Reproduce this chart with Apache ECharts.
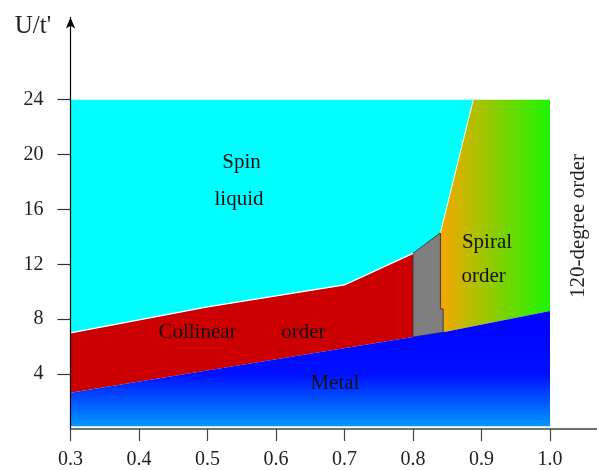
<!DOCTYPE html>
<html>
<head>
<meta charset="utf-8">
<script src="https://cdn.jsdelivr.net/npm/echarts@6/dist/echarts.min.js"></script>
<style>
  html, body { margin: 0; padding: 0; background: #fff; }
  #chart { width: 597px; height: 470px; }
</style>
</head>
<body>
<div id="chart"></div>
<script>
// Phase diagram in the (x, U/t') plane: each phase is a polygon of boundary vertices.
const xTicks = [0.3, 0.4, 0.5, 0.6, 0.7, 0.8, 0.9, 1.0];
const yTicks = [4, 8, 12, 16, 20, 24];

const metalRegion = [[0.3, 0.2], [1.0, 0.2], [1.0, 8.6], [0.844, 7.05], [0.8, 6.7], [0.3, 2.65]];
const collinearRegion = [[0.3, 2.65], [0.8, 6.7], [0.8, 12.8], [0.7, 10.5], [0.5, 8.9], [0.3, 7.0]];
const intermediateRegion = [[0.8, 6.7], [0.844, 7.05], [0.844, 8.75], [0.84, 8.75], [0.84, 14.3], [0.8, 12.8]];
const spiralRegion = [[0.84, 14.3], [0.888, 24], [1.0, 24], [1.0, 8.6], [0.844, 7.05], [0.844, 8.75], [0.84, 8.75]];
const spinLiquidRegion = [[0.3, 7.0], [0.3, 24], [0.888, 24], [0.84, 14.3], [0.8, 12.8], [0.7, 10.5], [0.5, 8.9]];
// Edge of the spin-liquid phase, traced with a thin light line
const spinLiquidEdge = [[0.3, 7.0], [0.5, 8.9], [0.7, 10.5], [0.8, 12.8]];
const spiralEdge = [[0.84, 14.3], [0.888, 24]];

const SERIF = '"Liberation Serif", "Times New Roman", serif';

function polygonSeries(name, points, style, z) {
  return {
    name: name,
    type: 'custom',
    coordinateSystem: 'cartesian2d',
    z: z || 2,
    silent: true,
    data: [0],
    renderItem: function (params, api) {
      return {
        type: 'polygon',
        shape: { points: points.map(function (p) { return api.coord(p); }) },
        style: style
      };
    }
  };
}

function polylineSeries(name, points, style, z) {
  return {
    name: name,
    type: 'custom',
    coordinateSystem: 'cartesian2d',
    z: z || 3,
    silent: true,
    data: [0],
    renderItem: function (params, api) {
      return {
        type: 'polyline',
        shape: { points: points.map(function (p) { return api.coord(p); }) },
        style: style
      };
    }
  };
}

// Phase names, anchored in data coordinates
const phaseLabels = [
  { text: 'Spin', at: [0.5496, 19.46] },
  { text: 'liquid', at: [0.546, 16.76] },
  { text: 'Collinear', at: [0.4854, 7.07] },
  { text: 'order', at: [0.640, 7.07] },
  { text: 'Spiral', at: [0.908, 13.63] },
  { text: 'order', at: [0.903, 11.08] },
  { text: 'Metal', at: [0.686, 3.32] }
];

const chart = echarts.init(document.getElementById('chart'), null, { renderer: 'canvas' });

const option = {
  animation: false,
  backgroundColor: '#ffffff',
  grid: {
    left: 70.5, right: -21.5, top: 17.4, bottom: 41,
    containLabel: false,
    outerBoundsMode: 'none'
  },
  xAxis: {
    type: 'value',
    min: 0.3,
    max: 1.1,
    interval: 0.1,
    z: 10,
    axisLine: { show: true, onZero: false, lineStyle: { color: '#444', width: 1.5 } },
    axisTick: { show: true, length: 12, inside: false, lineStyle: { color: '#444', width: 1.2 } },
    axisLabel: {
      margin: 21,
      fontFamily: SERIF,
      fontSize: 20,
      color: '#222',
      formatter: function (v) { return v.toFixed(1); }
    },
    splitLine: { show: false }
  },
  yAxis: {
    type: 'value',
    min: 0,
    max: 30,
    z: 10,
    axisLine: {
      show: true,
      onZero: false,
      symbol: ['none', 'arrow'],
      symbolSize: [7, 11],
      lineStyle: { color: '#000', width: 1.2 }
    },
    axisTick: { show: true, length: 13, inside: false, customValues: yTicks, lineStyle: { color: '#333', width: 1.2 } },
    axisLabel: {
      customValues: yTicks,
      margin: 27,
      fontFamily: SERIF,
      fontSize: 20,
      color: '#222'
    },
    splitLine: { show: false }
  },
  graphic: [
    {
      type: 'text',
      x: 33, y: 26,
      style: { text: "U/t'", font: '25px ' + SERIF, fill: '#222', align: 'center', verticalAlign: 'middle' }
    },
    {
      type: 'text',
      x: 578, y: 226,
      rotation: Math.PI / 2,
      style: { text: '120-degree order', font: '21px ' + SERIF, fill: '#222', align: 'center', verticalAlign: 'middle' }
    }
  ],
  series: [
    polygonSeries('Spin liquid', spinLiquidRegion, { fill: '#00ffff' }, 2),
    polygonSeries('Collinear order', collinearRegion, { fill: '#cc0000' }, 2),
    polygonSeries('Spiral order', spiralRegion, {
      fill: new echarts.graphic.LinearGradient(0, 0, 1, 0, [
        { offset: 0, color: '#f7a600' },
        { offset: 1, color: '#1cf500' }
      ])
    }, 2),
    polygonSeries('Intermediate', intermediateRegion, { fill: '#7f7f7f', stroke: '#3a3a3a', lineWidth: 1 }, 3),
    polygonSeries('Metal', metalRegion, {
      fill: new echarts.graphic.LinearGradient(0, 0, 0, 1, [
        { offset: 0, color: '#0000ff' },
        { offset: 0.55, color: '#0010ff' },
        { offset: 1, color: '#0098ff' }
      ])
    }, 4),
    polylineSeries('Spin liquid edge', spinLiquidEdge, { stroke: '#ffffff', lineWidth: 1.2, fill: null }, 5),
    polylineSeries('Spiral edge', spiralEdge, { stroke: '#e8fff0', lineWidth: 1, fill: null }, 5),
    {
      name: 'Phase labels',
      type: 'custom',
      coordinateSystem: 'cartesian2d',
      z: 8,
      silent: true,
      data: phaseLabels.map(function (d, i) { return i; }),
      renderItem: function (params, api) {
        const d = phaseLabels[params.dataIndex];
        const p = api.coord(d.at);
        return {
          type: 'text',
          x: p[0], y: p[1],
          style: {
            text: d.text,
            font: '21px ' + SERIF,
            fill: '#111',
            align: 'center',
            verticalAlign: 'middle'
          }
        };
      }
    }
  ]
};

chart.setOption(option);
</script>
</body>
</html>
